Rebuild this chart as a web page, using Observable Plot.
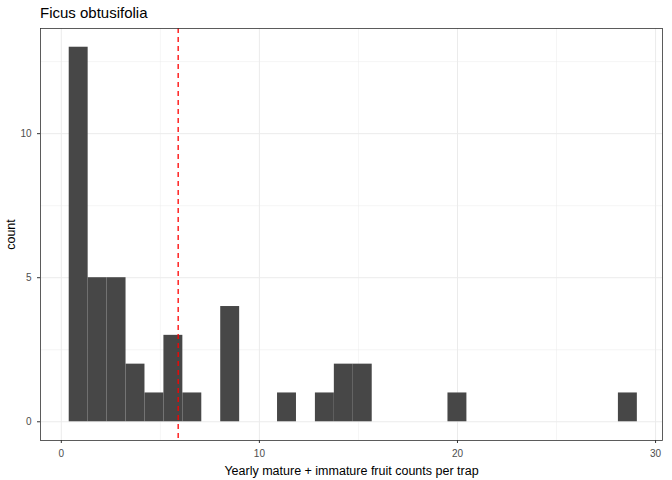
<!DOCTYPE html>
<html><head>
<script src="https://cdn.jsdelivr.net/npm/d3@7"></script>
<script src="https://cdn.jsdelivr.net/npm/@observablehq/plot@0.6"></script>
<style>
body{margin:0;background:#fff;font-family:"Liberation Sans",Arial,sans-serif}
#title{height:28px;padding-left:40px;font-size:15px;line-height:26px;color:#000}
</style>
</head><body>
<div id="title">Ficus obtusifolia</div>
<div id="chart"></div>
<script>
// histogram: 30 bins
const binStart = 0.4
const binWidth = 0.956
const counts = [13,5,5,2,1,3,1,0,4,0,0,1,0,1,2,2,0,0,0,0,1,0,0,0,0,0,0,0,0,1]
const cutoff = 5.9
const xTicks = [0,10,20,30]
const yTicks = [0,5,10]

const bins = counts.map((c, i) => ({x1: binStart + i*binWidth, x2: binStart + (i+1)*binWidth, count: c}))
  .filter(d => d.count > 0)

const chart = Plot.plot({
  width: 672, height: 452,
  marginTop: 0, marginLeft: 40, marginRight: 10, marginBottom: 40,
  style: {fontFamily: "Liberation Sans, Arial, sans-serif", fontSize: "10px"},
  x: {domain: [-1.05, 30.35]},
  y: {domain: [-0.65, 13.65]},
  marks: [
    Plot.gridX([5,15,25], {stroke: "#ebebeb", strokeOpacity: 1, strokeWidth: 0.5}),
    Plot.gridY([2.5,7.5,12.5], {stroke: "#ebebeb", strokeOpacity: 1, strokeWidth: 0.5}),
    Plot.gridX(xTicks, {stroke: "#ebebeb", strokeOpacity: 1, strokeWidth: 1}),
    Plot.gridY(yTicks, {stroke: "#ebebeb", strokeOpacity: 1, strokeWidth: 1}),
    Plot.rectY(bins, {x1: "x1", x2: "x2", y1: 0, y2: "count", fill: "#474747", inset: 0}),
    Plot.ruleX([cutoff], {stroke: "red", strokeDasharray: "5,4", strokeWidth: 1.3}),
    Plot.frame({stroke: "#333", strokeWidth: 0.8}),
    Plot.axisX({ticks: xTicks, tickSize: 3, stroke: "#333", color: "#4d4d4d", fontSize: 10, label: "Yearly mature + immature fruit counts per trap", labelAnchor: "center", labelArrow: "none", labelOffset: 34}),
    Plot.axisY({ticks: yTicks, tickSize: 3, stroke: "#333", color: "#4d4d4d", fontSize: 10, label: "count", labelAnchor: "center", labelArrow: "none", labelOffset: 34})
  ]
})
d3.select(chart).selectAll("g[aria-label='x-axis label'] text, g[aria-label='y-axis label'] text")
  .style("font-size", "12.5px").style("fill", "#000")
d3.select('#chart').append(() => chart)
</script>
</body></html>
